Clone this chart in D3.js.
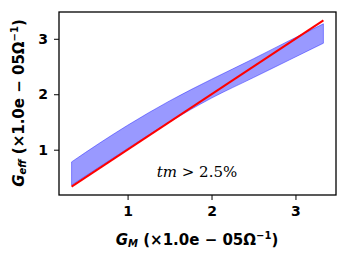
<!DOCTYPE html>
<html>
<head>
<meta charset="utf-8">
<script src="https://cdn.jsdelivr.net/npm/d3@7"></script>
<style>
  body { margin: 0; background: #fff; }
  text { font-family: "DejaVu Sans", sans-serif; }
</style>
</head>
<body>
<script>
const w = 348;
const h = 259;

// band of G_eff against G_M (units 1e-05 / ohm)
const gm       = [0.333, 0.667, 1.0, 1.5, 2.0, 2.5, 2.93, 3.333];
const upper    = [0.78, 1.12, 1.44, 1.88, 2.27, 2.64, 2.97, 3.27];
const lower    = [0.36, 0.69, 1.02, 1.5, 1.93, 2.3, 2.62, 2.92];
const identity = [0.333, 3.333];
const xTicks = [1, 2, 3];
const yTicks = [1, 2, 3];

const m = {left: 59, top: 12, right: 336, bottom: 195};

const x = d3.scaleLinear().domain([0.183, 3.483]).range([m.left, m.right]);
const y = d3.scaleLinear().domain([0.183, 3.483]).range([m.bottom, m.top]);

const svg = d3.select("body").append("svg")
  .attr("width", w)
  .attr("height", h);

const band = gm.map((d, i) => ({x: d, lo: lower[i], hi: upper[i]}));

svg.append("path")
  .datum(band)
  .attr("d", d3.area().curve(d3.curveMonotoneX).x(d => x(d.x)).y0(d => y(d.lo)).y1(d => y(d.hi)))
  .attr("fill", "rgba(0,0,255,0.4)")
  .attr("stroke", "rgba(0,0,255,0.4)")
  .attr("stroke-width", 1);

svg.append("path")
  .datum(identity)
  .attr("d", d3.line().x(d => x(d)).y(d => y(d)))
  .attr("fill", "none")
  .attr("stroke", "#ff0000")
  .attr("stroke-width", 2);

const xAxis = d3.axisBottom(x).tickValues(xTicks).tickSize(5).tickPadding(6).tickFormat(d3.format("d"));
const yAxis = d3.axisLeft(y).tickValues(yTicks).tickSize(5).tickPadding(6).tickFormat(d3.format("d"));

const gx = svg.append("g")
  .attr("transform", "translate(0," + m.bottom + ")")
  .call(xAxis);
const gy = svg.append("g")
  .attr("transform", "translate(" + m.left + ",0)")
  .call(yAxis);

[gx, gy].forEach(g => {
  g.select(".domain").remove();
  g.selectAll("line").attr("stroke", "#000").attr("stroke-width", 1);
  g.selectAll("text")
    .attr("fill", "#000")
    .style("font-size", "14px")
    .style("font-weight", "bold")
    .style("font-family", "DejaVu Sans");
});

svg.append("rect")
  .attr("x", m.left)
  .attr("y", m.top)
  .attr("width", m.right - m.left)
  .attr("height", m.bottom - m.top)
  .attr("fill", "none")
  .attr("stroke", "#000")
  .attr("stroke-width", 1.3);

// annotation
const note = svg.append("text")
  .attr("x", 197)
  .attr("y", 177)
  .attr("text-anchor", "middle")
  .style("font-family", "DejaVu Serif")
  .style("font-size", "15px");
note.append("tspan").style("font-style", "italic").text("tm");
note.append("tspan").text(" > 2.5%");

// x label
const xl = svg.append("text")
  .attr("x", 197)
  .attr("y", 245)
  .attr("text-anchor", "middle")
  .style("font-size", "15px")
  .style("font-weight", "bold");
xl.append("tspan").style("font-style", "italic").text("G");
xl.append("tspan").style("font-style", "italic").style("font-size", "10px").attr("dy", 2).text("M");
xl.append("tspan").attr("dy", -2).text(" (×1.0e − 05Ω");
xl.append("tspan").style("font-size", "10px").attr("dy", -6).text("−1");
xl.append("tspan").attr("dy", 6).text(")");

// y label
const yl = svg.append("text")
  .attr("transform", "translate(24,103) rotate(-90)")
  .attr("text-anchor", "middle")
  .style("font-size", "15px")
  .style("font-weight", "bold");
yl.append("tspan").style("font-style", "italic").text("G");
yl.append("tspan").style("font-style", "italic").style("font-size", "10px").attr("dy", 2).text("eff");
yl.append("tspan").attr("dy", -2).text(" (×1.0e − 05Ω");
yl.append("tspan").style("font-size", "10px").attr("dy", -6).text("−1");
yl.append("tspan").attr("dy", 6).text(")");
</script>
</body>
</html>
